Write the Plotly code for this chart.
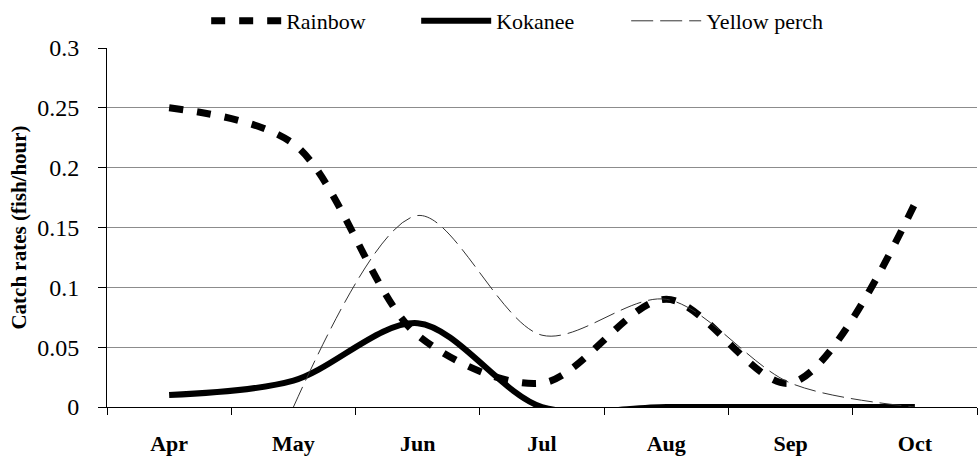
import plotly.graph_objects as go

months = ["Apr", "May", "Jun", "Jul", "Aug", "Sep", "Oct"]
rainbow = [0.25, 0.22, 0.06, 0.02, 0.09, 0.02, 0.17]
kokanee = [0.01, 0.022, 0.07, 0.0, 0.0, 0.0, 0.0]
yellow_perch = [None, 0.0, 0.16, 0.06, 0.09, 0.02, 0.0]
series_names = ["Rainbow", "Kokanee", "Yellow perch"]
y_ticks = [0, 0.05, 0.1, 0.15, 0.2, 0.25, 0.3]
y_tick_text = ["0", "0.05", "0.1", "0.15", "0.2", "0.25", "0.3"]

SERIF = "Liberation Serif"


def serif_label(text):
    return f'<span style="font-family:Liberation Serif,Times New Roman,serif">{text}</span>'


fig = go.Figure()
fig.add_trace(go.Scatter(
    x=months, y=rainbow, name=serif_label(series_names[0]), mode="lines",
    line=dict(color="black", width=7, dash="14px,14px", shape="spline", smoothing=0.9),
))
fig.add_trace(go.Scatter(
    x=months, y=kokanee, name=serif_label(series_names[1]), mode="lines",
    line=dict(color="black", width=6, shape="spline", smoothing=0.9),
))
fig.add_trace(go.Scatter(
    x=months, y=yellow_perch, name=serif_label(series_names[2]), mode="lines",
    line=dict(color="#333333", width=1, dash="22px,7px", shape="spline", smoothing=0.9),
    connectgaps=False,
))

fig.update_layout(
    width=979, height=467,
    margin=dict(l=107, r=2, t=48, b=60),
    paper_bgcolor="white", plot_bgcolor="white",
    font=dict(family=SERIF, color="black", size=20),
    showlegend=True,
    legend=dict(
        orientation="h", x=0.114, xanchor="left",
        yref="container", y=1.0, yanchor="top",
        font=dict(family=SERIF, size=22, color="black"),
        itemwidth=70, entrywidth=125, entrywidthmode="pixels",
        tracegroupgap=0,
    ),
    xaxis=dict(
        type="category", categoryorder="array", categoryarray=months,
        range=[-0.5, 6.5], automargin=False,
        showgrid=False, showline=True, linecolor="black", linewidth=1,
        ticks="outside", tickson="boundaries", ticklen=7, tickcolor="black",
        ticklabelstandoff=17,
        tickfont=dict(family=SERIF, size=22, color="black", weight="bold"),
        mirror=False, zeroline=False,
    ),
    yaxis=dict(
        range=[0, 0.3], tickvals=y_ticks, ticktext=y_tick_text, automargin=False,
        showgrid=True, gridcolor="#8c8c8c", gridwidth=1,
        showline=True, linecolor="black", linewidth=1,
        ticks="outside", ticklen=8, tickcolor="black",
        ticklabelstandoff=14,
        tickfont=dict(family=SERIF, size=24, color="black"),
        title=dict(text="Catch rates (fish/hour)",
                   font=dict(family=SERIF, size=21, color="black", weight="bold"),
                   standoff=4),
        zeroline=False,
    ),
)

# remove the page's default body margin so the figure sits at the window origin
fig.write_html(
    "out.html",
    config={"displayModeBar": False},
    post_script="document.body.style.margin='0';document.body.style.padding='0';",
)
